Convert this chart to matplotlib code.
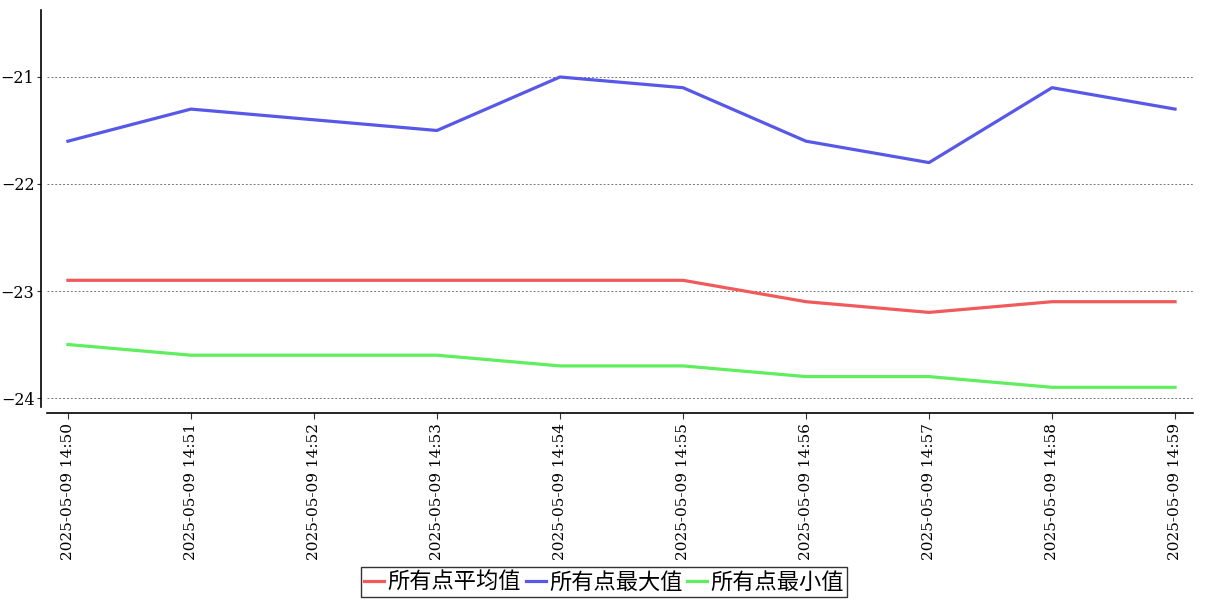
import matplotlib
matplotlib.use('Agg')
import matplotlib.pyplot as plt

times = ['2025-05-09 14:50', '2025-05-09 14:51', '2025-05-09 14:52', '2025-05-09 14:53',
         '2025-05-09 14:54', '2025-05-09 14:55', '2025-05-09 14:56', '2025-05-09 14:57',
         '2025-05-09 14:58', '2025-05-09 14:59']
avg_vals = [-22.9, -22.9, -22.9, -22.9, -22.9, -22.9, -23.1, -23.2, -23.1, -23.1]
max_vals = [-21.6, -21.3, -21.4, -21.5, -21.0, -21.1, -21.6, -21.8, -21.1, -21.3]
min_vals = [-23.5, -23.6, -23.6, -23.6, -23.7, -23.7, -23.8, -23.8, -23.9, -23.9]
series_names = ['所有点平均值', '所有点最大值', '所有点最小值']
series_colors = ['#f05a5a', '#5858e8', '#5eee5e']

fig = plt.figure(figsize=(12.07, 6.0), dpi=100)
ax = fig.add_axes([47 / 1207, 1 - 407 / 600, (1193 - 47) / 1207, (407 - 10) / 600])

x = list(range(len(times)))
for vals, name, col in zip([avg_vals, max_vals, min_vals], series_names, series_colors):
    ax.plot(x, vals, color=col, lw=2.3, label=name)

ax.spines['top'].set_visible(False)
ax.spines['right'].set_visible(False)
ax.spines['left'].set_position(('outward', 4))
ax.spines['bottom'].set_position(('outward', 4))
ax.spines['left'].set_linewidth(1.2)
ax.spines['bottom'].set_linewidth(1.2)
ax.tick_params(length=4, width=0.8, colors='#333333', labelcolor='black')
ax.tick_params(axis='y', length=3, pad=2)

ax.set_xlim(-0.17, 9.146)
ax.set_ylim(-24.084, -20.374)
ax.set_yticks([-21, -22, -23, -24])
ax.set_yticklabels(['\u221221', '\u221222', '\u221223', '\u221224'])
ax.set_xticks(x)
ax.set_xticklabels(times)
for lab in ax.get_yticklabels():
    lab.set_fontfamily('DejaVu Serif')
    lab.set_fontsize(11.5)
for lab in ax.get_xticklabels():
    lab.set_fontfamily('DejaVu Serif')
    lab.set_fontsize(11)
    lab.set_rotation(90)
ax.yaxis.grid(True, linestyle=(0, (2, 2)), color='#777777', lw=0.7)
ax.set_axisbelow(True)

leg = ax.legend(loc='center', bbox_to_anchor=(604 / 1207, 1 - 582 / 600),
                bbox_transform=fig.transFigure, ncol=3, frameon=True, fancybox=False,
                edgecolor='black', handlelength=0.9, handletextpad=0.15, columnspacing=0.2,
                borderpad=0.15, prop={'family': ['Noto Sans CJK SC', 'DejaVu Sans'], 'size': 16})
leg.get_frame().set_linewidth(1.0)

fig.savefig('out.png', dpi=100)
